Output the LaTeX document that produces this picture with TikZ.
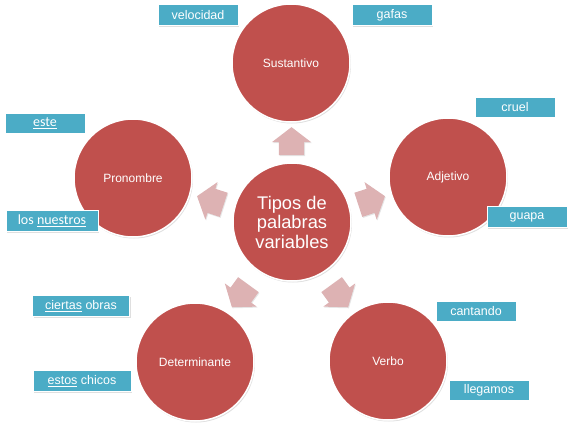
\documentclass[tikz,border=0pt]{standalone}
\usepackage{fontspec}
\setmainfont{Liberation Sans}
\newfontfamily\calfont{Carlito}
\usetikzlibrary{shapes.arrows,shadows}
\definecolor{tipored}{HTML}{C0504D}
\definecolor{tipopink}{HTML}{DDB2B3}
\definecolor{tipoblue}{HTML}{4BACC6}

\begin{document}
\begin{tikzpicture}[x=1pt, y=-1pt, every node/.style={text=white},
  tipo/.style={circle, draw=white, line width=1.5pt, fill=tipored, minimum size=118pt, inner sep=0pt, font=\fontsize{12}{14}\selectfont, drop shadow={opacity=0.25, shadow xshift=1pt, shadow yshift=-1.5pt}},
  flecha/.style={single arrow, fill=tipopink, minimum height=28pt, inner xsep=0pt, inner ysep=12.5pt, single arrow head extend=7pt, single arrow tip angle=105, drop shadow={opacity=0.2, shadow xshift=0.8pt, shadow yshift=-1pt}},
  ejemplo/.style={rectangle, fill=tipoblue, draw=white, line width=1pt, minimum width=80pt, minimum height=21pt, inner sep=1pt, font=\fontsize{12.5}{14}\selectfont, drop shadow={opacity=0.25, shadow xshift=1pt, shadow yshift=-1pt}}]
\useasboundingbox (0,0) rectangle (582,426);
% centro y las cinco clases
\node[tipo, font=\fontsize{18.3}{19.5}\selectfont, align=center] (tipos) at (292,222) {Tipos de\\palabras\\variables};
\node[tipo] (sust) at (291,63) {Sustantivo};
\node[tipo] (adj) at (448,177) {Adjetivo};
\node[tipo] (verbo) at (388,361) {Verbo};
\node[tipo] (det) at (195,362) {Determinante};
\node[tipo] (pron) at (133,178) {Pronombre};
% flechas hacia fuera
\node[flecha, rotate=90] (f1) at (291.5,146) {};
\node[flecha, rotate=18] (f2) at (367,202) {};
\node[flecha, rotate=306] (f3) at (337,292) {};
\node[flecha, rotate=234] (f4) at (243,292) {};
\node[flecha, rotate=162] (f5) at (215,202) {};
% ejemplos
\node[ejemplo] (velocidad) at (198,15) {velocidad};
\node[ejemplo] (gafas) at (392,15) {gafas};
\node[ejemplo, minimum height=20pt] (cruel) at (515,107) {cruel};
\node[ejemplo] (guapa) at (527,217) {guapa};
\node[ejemplo, minimum height=20pt] (cantando) at (476,311) {cantando};
\node[ejemplo, minimum height=20pt] (llegamos) at (489,390) {llegamos};
\node[ejemplo, minimum height=20pt, font=\calfont\fontsize{14}{16}\selectfont] (este) at (45,123) {\underline{este}};
\node[ejemplo, minimum width=92pt, font=\calfont\fontsize{14}{16}\selectfont] (nuestros) at (52,221) {los \underline{nuestros}};
\node[ejemplo, minimum width=97pt] (ciertas) at (81,306) {\underline{ciertas} obras};
\node[ejemplo, minimum width=98pt] (estos) at (82,381) {\underline{estos} chicos};
\end{tikzpicture}
\end{document}
